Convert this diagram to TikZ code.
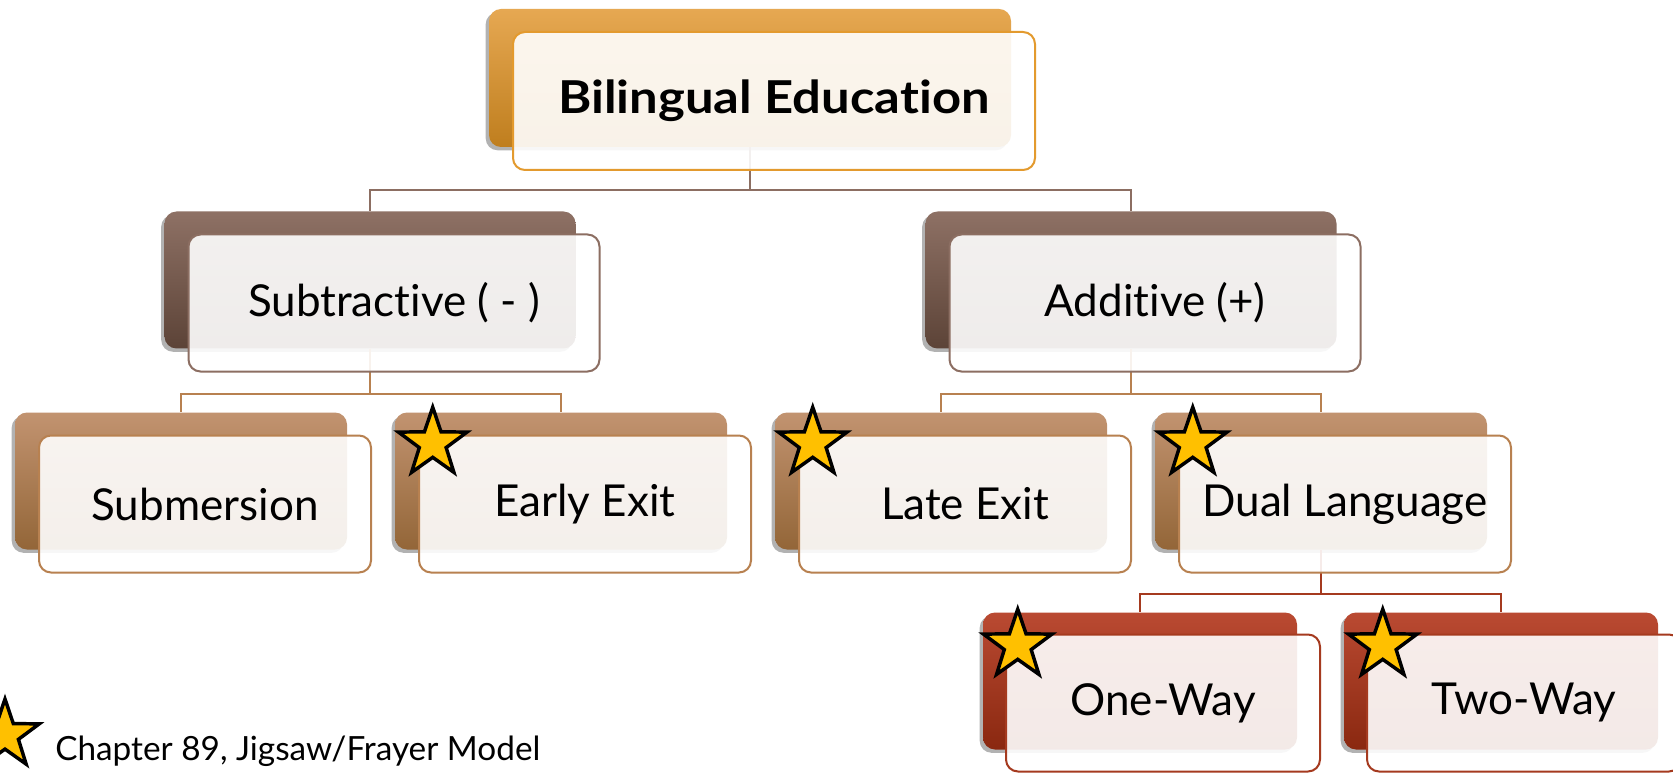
\documentclass[tikz,border=0pt]{standalone}
\usepackage{fontspec}
\setmainfont{Lato}[RawFeature=-liga]
\usetikzlibrary{shadows,shapes.geometric,calc}
\definecolor{orA}{HTML}{E6A852}
\definecolor{orB}{HTML}{BF7E1E}
\definecolor{orE}{HTML}{E39A2E}
\definecolor{brA}{HTML}{8E7165}
\definecolor{brB}{HTML}{5C4337}
\definecolor{brE}{HTML}{8C6E62}
\definecolor{tnA}{HTML}{C29370}
\definecolor{tnB}{HTML}{936638}
\definecolor{tnE}{HTML}{B88150}
\definecolor{rdA}{HTML}{BA4A32}
\definecolor{rdB}{HTML}{8A2810}
\definecolor{rdE}{HTML}{A53A1F}
\definecolor{starY}{HTML}{FFC000}
\begin{document}
\begin{tikzpicture}[x=0.75pt,y=-0.75pt,
  backbox/.style={rounded corners=9pt, inner sep=0pt, shading=axis,
     drop shadow={shadow xshift=-2.5pt, shadow yshift=-2.5pt, opacity=0.3, fill=black}},
  frontbox/.style={rounded corners=9pt, inner sep=0pt, draw, line width=1.5pt,
     fill=white, fill opacity=0.9, text opacity=1, font=\fontsize{33}{38}\selectfont},
  szA/.style={minimum width=391.5pt, minimum height=103.5pt},
  szB/.style={minimum width=308.25pt, minimum height=102.75pt},
  szC/.style={minimum width=249pt, minimum height=102.75pt},
  szD/.style={minimum width=235.5pt, minimum height=102.75pt},
  lvA/.style={top color=orA, bottom color=orB},
  lvB/.style={top color=brA, bottom color=brB},
  lvC/.style={top color=tnA, bottom color=tnB},
  lvD/.style={top color=rdA, bottom color=rdB},
  connA/.style={draw=brE, line width=1.5pt},
  connB/.style={draw=tnE, line width=1.5pt},
  connC/.style={draw=rdE, line width=1.5pt},
  starmark/.style={star, star points=5, star point ratio=2.55, minimum size=54pt,
     inner sep=0pt, fill=starY, draw=black, line width=2.6pt, line join=miter}
]
\fill[white] (0,0) rectangle (1673,773);
\useasboundingbox (0,0) rectangle (1673,773);

% back boxes
\node[backbox, szA, lvA] (b1)  at (750,78) {};
\node[backbox, szB, lvB] (b2a) at (370,280) {};
\node[backbox, szB, lvB] (b2b) at (1131,280) {};
\node[backbox, szC, lvC] (b3a) at (181,481) {};
\node[backbox, szC, lvC] (b3b) at (561,481) {};
\node[backbox, szC, lvC] (b3c) at (941,481) {};
\node[backbox, szC, lvC] (b3d) at (1321,481) {};
\node[backbox, szD, lvD] (b4a) at (1140,681) {};
\node[backbox, szD, lvD] (b4b) at (1501,681) {};

% connectors
\draw[connA] (b1.south) -- ++(0,43) -| (b2a.north);
\draw[connA] (b1.south) -- ++(0,43) -| (b2b.north);
\draw[connB] (b2a.south) -- ++(0,45) -| (b3a.north);
\draw[connB] (b2a.south) -- ++(0,45) -| (b3b.north);
\draw[connB] (b2b.south) -- ++(0,45) -| (b3c.north);
\draw[connB] (b2b.south) -- ++(0,45) -| (b3d.north);
\draw[connC] (b3d.south) -- ++(0,44) -| (b4a.north);
\draw[connC] (b3d.south) -- ++(0,44) -| (b4b.north);

% front boxes
\node[frontbox, szA, draw=orE, font=\fontsize{34}{38}\selectfont\bfseries] (f1) at (774,101) {\scalebox{1.12}[1]{Bilingual Education}};
\node[frontbox, szB, draw=brE] (f2a) at (394,303) {Subtractive ( - )};
\node[frontbox, szB, draw=brE] (f2b) at (1155,303) {Additive (+)};
\node[frontbox, szC, draw=tnE] (f3a) at (205,504) {Submersion};
\node[frontbox, szC, draw=tnE] (f3b) at (585,504) {Early Exit};
\node[frontbox, szC, draw=tnE] (f3c) at (965,504) {Late Exit};
\node[frontbox, szC, draw=tnE] (f3d) at (1345,504) {Dual Language};
\node[frontbox, szD, draw=rdE] (f4a) at (1163,703) {One-Way};
\node[frontbox, szD, draw=rdE] (f4b) at (1524,703) {Two-Way};

% stars
\node[starmark] (s1) at ($(b3b.north west)+(38,31)$) {};
\node[starmark] (s2) at ($(b3c.north west)+(38,31)$) {};
\node[starmark] (s3) at ($(b3d.north west)+(38,31)$) {};
\node[starmark] (s4) at ($(b4a.north west)+(35,33)$) {};
\node[starmark] (s5) at ($(b4b.north west)+(39,33)$) {};
\node[starmark] (s6) at (5,735) {};

% legend
\node[anchor=base west, inner sep=0pt, font=\fontsize{25}{30}\selectfont] (leg) at (55,760) {Chapter 89, Jigsaw/Frayer Model};
\end{tikzpicture}
\end{document}
